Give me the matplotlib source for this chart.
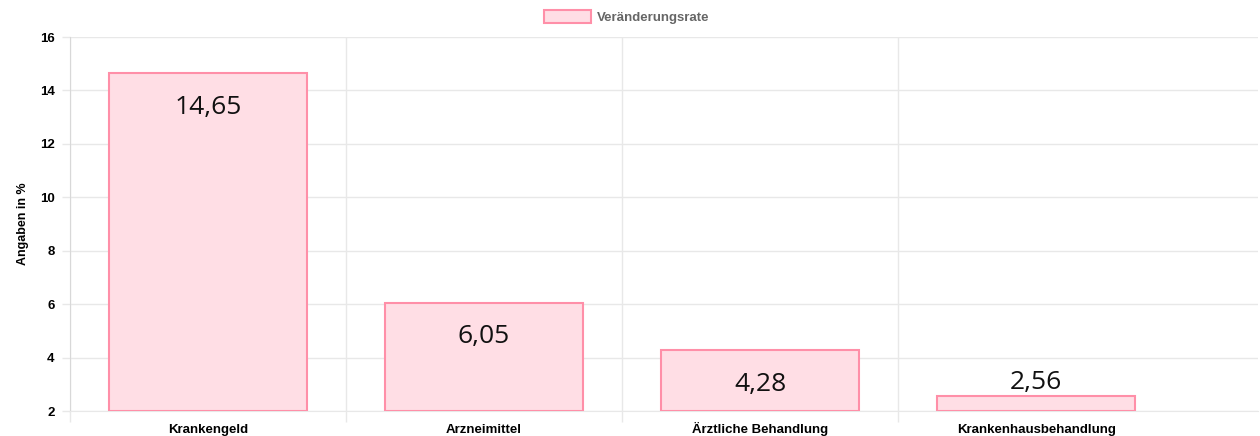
import numpy as np
import matplotlib.pyplot as plt

# categories and values
categories = ['Krankengeld', 'Arzneimittel', 'Ärztliche Behandlung', 'Krankenhausbehandlung']
values = [14.65, 6.05, 4.28, 2.56]
value_labels = ['14,65', '6,05', '4,28', '2,56']
y_ticks = [2, 4, 6, 8, 10, 12, 14, 16]

grid_color = '#e8e8e8'
face = '#ffdee5'
edge = '#ff8fa8'

fig = plt.figure(figsize=(12.6, 4.36), dpi=100)
ax = fig.add_axes([70 / 1260, 1 - 411 / 436, 1188 / 1260, 374 / 436])

x = np.arange(len(categories))
bars = ax.bar(x, np.array(values) - 2, bottom=2, width=0.717,
              color=face, edgecolor=edge, linewidth=1.5, zorder=3,
              label='Veränderungsrate')

# value labels: inside near top, or above if bar is too short
for xi, v, lab in zip(x, values, value_labels):
    if v - 2 > 1.8:
        off = -24.5
    else:
        off = 9.5
    ax.annotate(lab, (xi, v), xytext=(0, off), textcoords='offset points',
                ha='center', va='center', fontsize=19, family='Open Sans',
                color='#111111', zorder=4)

ax.set_xlim(-0.5, 3.804)
ax.set_ylim(2, 16)
ax.set_yticks(y_ticks)
ax.set_yticklabels([str(t) for t in y_ticks], fontsize=9.5, fontweight='bold',
                   family='Liberation Sans')
ax.set_xticks(x)
ax.set_xticklabels(categories, fontsize=9.5, fontweight='bold', family='Liberation Sans',
                   va='baseline')
ax.set_xticks(np.arange(-0.5, 3, 1), minor=True)
ax.tick_params(axis='x', which='major', length=0, pad=16)
ax.tick_params(axis='x', which='minor', length=8, color=grid_color, width=1)
ax.tick_params(axis='y', length=6, color=grid_color, width=1, pad=5)

ax.grid(True, axis='y', color=grid_color, linewidth=1, zorder=0)
ax.grid(True, axis='x', which='minor', color=grid_color, linewidth=1, zorder=0)
for s in ['top', 'right']:
    ax.spines[s].set_visible(False)
ax.spines['left'].set_color('#d8d8d8')
ax.spines['bottom'].set_color(grid_color)

ax.set_ylabel('Angaben in %', fontsize=9, fontweight='bold', family='Liberation Sans',
              labelpad=8)

fig.legend(handles=[bars], labels=['Veränderungsrate'], loc='center',
           bbox_to_anchor=(627 / 1260, 1 - 17 / 436), frameon=False,
           prop={'family': 'Liberation Sans', 'size': 9.5, 'weight': 'bold'},
           labelcolor='#666666', handlelength=3.5, handleheight=1.1, handletextpad=0.5)

fig.savefig('out.png', dpi=100)
